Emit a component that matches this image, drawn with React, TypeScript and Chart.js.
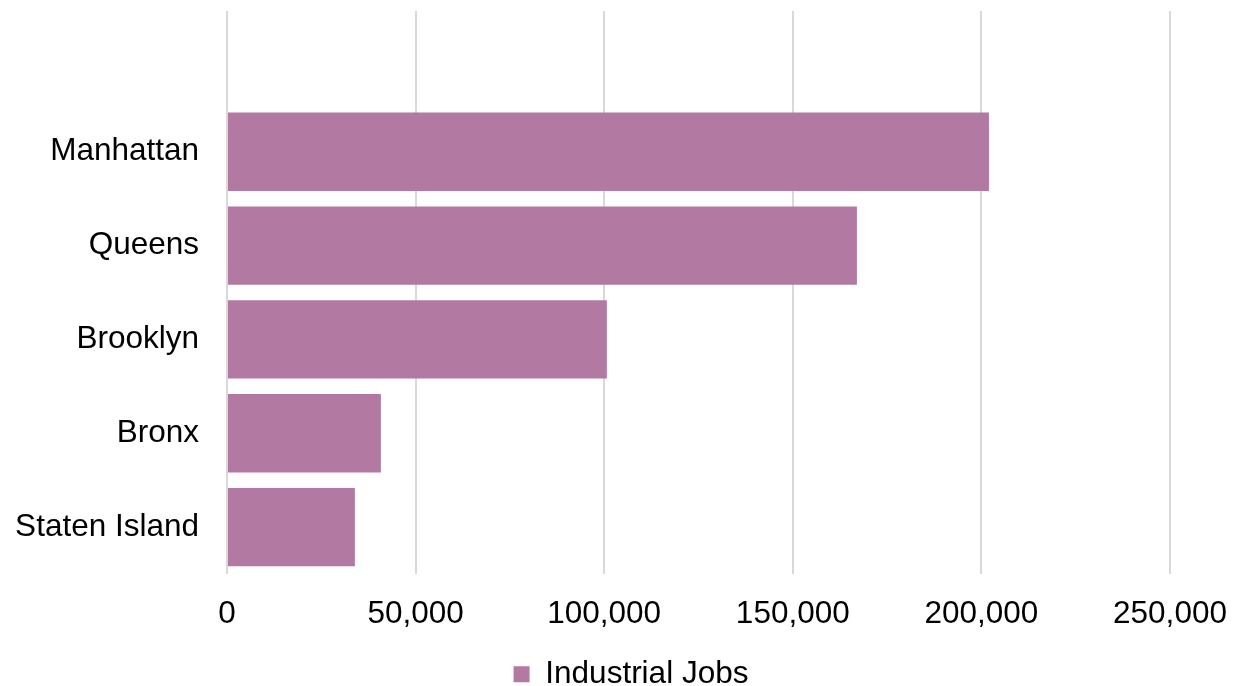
import React, { useEffect, useRef } from "react";
import { Chart, registerables } from "chart.js";

Chart.register(...registerables);

const categories = ["", "Manhattan", "Queens", "Brooklyn", "Bronx", "Staten Island"];
const industrialJobs = [null, 202000, 167000, 100700, 40800, 33900];
const seriesLabel = "Industrial Jobs";
const xTicks = [0, 50000, 100000, 150000, 200000, 250000];

const legendShift = {
  id: "legendShift",
  afterLayout(chart: any) {
    if (chart.legend) {
      chart.legend.left += 92;
    }
  },
};

export default function App() {
  const ref = useRef<HTMLCanvasElement | null>(null);
  useEffect(() => {
    document.body.style.margin = "0";
    const font = { family: "'Liberation Sans', Arial, sans-serif", size: 31.5 };
    const chart = new Chart(ref.current!, {
      type: "bar",
      data: {
        labels: categories,
        datasets: [
          {
            label: seriesLabel,
            data: industrialJobs as any,
            backgroundColor: "#b279a2",
            borderWidth: 0,
            barPercentage: 0.834,
            categoryPercentage: 1,
          },
        ],
      },
      options: {
        indexAxis: "y",
        animation: false,
        responsive: false,
        maintainAspectRatio: false,
        layout: { padding: { top: 11, right: 63, bottom: -14, left: 0 } },
        plugins: {
          legend: {
            position: "bottom",
            labels: { font, color: "#000", boxWidth: 16, boxHeight: 16, padding: 0 },
          },
          tooltip: { enabled: false },
        },
        scales: {
          x: {
            min: 0,
            max: 250000,
            afterBuildTicks: (s: any) => {
              s.ticks = xTicks.map((v) => ({ value: v }));
            },
            afterFit: (s: any) => {
              s.height = 84.5;
              s.paddingLeft = 0;
              s.paddingRight = 0;
            },
            ticks: {
              font,
              color: "#000",
              padding: 21,
              maxRotation: 0,
              callback: (v: any) => Number(v).toLocaleString("en-US"),
            },
            grid: { color: "#d9d9d9", lineWidth: 2, drawTicks: false },
            border: { display: false },
          },
          y: {
            afterFit: (s: any) => {
              s.width = 227;
              s.paddingTop = 0;
              s.paddingBottom = 0;
            },
            ticks: { font, color: "#000", padding: 28 },
            grid: { display: false, drawTicks: false },
            border: { display: false },
          },
        },
      },
      plugins: [legendShift],
    });
    return () => chart.destroy();
  }, []);
  return <canvas ref={ref} width={1233} height={686} style={{ display: "block" }} />;
}
